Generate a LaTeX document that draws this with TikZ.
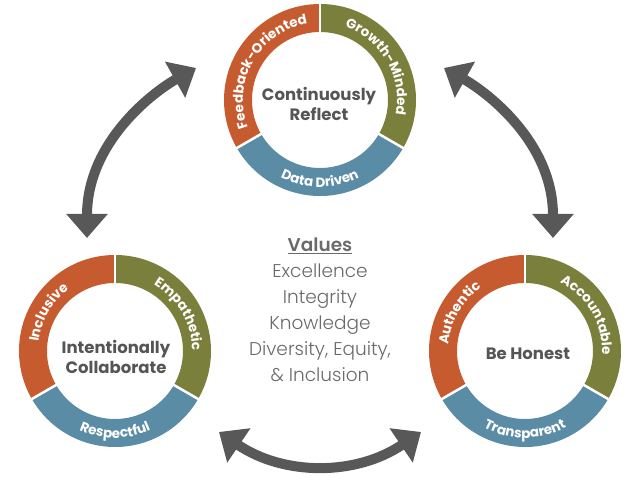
\documentclass[tikz,border=0pt]{standalone}
\usepackage{fontspec}
\setmainfont{Poppins}
\newfontfamily\lightfont{Poppins Light}
\usetikzlibrary{arrows.meta,decorations.text,calc}
\definecolor{rust}{HTML}{C75B30}
\definecolor{olive}{HTML}{7A7F3B}
\definecolor{steel}{HTML}{5A8CA6}
\definecolor{arrowgray}{HTML}{585858}
\definecolor{labelgray}{HTML}{555555}
\definecolor{valgray}{HTML}{6A6A6A}
\def\Rout{96pt}
\def\Rin{68pt}
\newcommand\arcfont{\bfseries\fontsize{13.5}{14}\selectfont}
\newcommand\ringseg[4]{\fill[#4] ($(#1)+(#2:\Rout)$) arc[start angle=#2,end angle=#3,radius=\Rout] -- ($(#1)+(#3:\Rin)$) arc[start angle=#3,end angle=#2,radius=\Rin] -- cycle;}
\newcommand\myring[1]{%
  \ringseg{#1}{90}{210}{rust}
  \ringseg{#1}{210}{330}{steel}
  \ringseg{#1}{-30}{90}{olive}
  \foreach \a in {90,210,330} \draw[white,line width=2.5pt] ($(#1)+(\a:\Rin-3pt)$) -- ($(#1)+(\a:\Rout+3pt)$);
}
\newcommand\arcout[4]{\path[decorate,decoration={text along path,text align=center,text color=white,text={|\arcfont|#4}}] ($(#1)+(#2:77pt)$) arc[start angle=#2,end angle=#3,radius=77pt];}
\newcommand\arcin[4]{\path[decorate,decoration={text along path,text align=center,text color=white,text={|\arcfont|#4}}] ($(#1)+(#2:87pt)$) arc[start angle=#2,end angle=#3,radius=87pt];}
\tikzset{
  biarrow/.style={draw=arrowgray,line width=10pt,{Triangle[width=40pt,length=24pt,fill=arrowgray]}-{Triangle[width=40pt,length=24pt,fill=arrowgray]}},
  center label/.style={font=\bfseries\fontsize{16.5}{20}\selectfont,text=labelgray,align=center},
  valstyle/.style={font=\lightfont\fontsize{18.5}{22}\selectfont,text=valgray,anchor=base,inner sep=0pt}
}
\begin{document}
\begin{tikzpicture}[x=1pt,y=1pt]
\useasboundingbox (0,0) rectangle (641,481);
\coordinate (cT) at (320,381);
\coordinate (cL) at (115,130);
\coordinate (cR) at (525,130);
\myring{cT}
\myring{cL}
\myring{cR}
% arc texts
\arcout{cT}{208}{92}{Feedback-Oriented}
\arcout{cT}{88}{-28}{Growth-Minded}
\arcin{cT}{212}{328}{Data Driven}
\arcout{cL}{208}{92}{Inclusive}
\arcout{cL}{88}{-28}{Empathetic}
\arcin{cL}{212}{328}{Respectful}
\arcout{cR}{208}{92}{Authentic}
\arcout{cR}{88}{-28}{Accountable}
\arcin{cR}{212}{328}{Transparent}
% center labels
\node[center label] (reflect) at (319,377) {Continuously\\Reflect};
\node[center label] (collab) at (116,124) {Intentionally\\Collaborate};
\node[center label,anchor=base] (honest) at (528,121) {Be Honest};
% values
\node[valstyle] (v0) at (320,229) {\bfseries\underline{Values}};
\node[valstyle] (v1) at (320,203) {Excellence};
\node[valstyle] (v2) at (320,177) {Integrity};
\node[valstyle] (v3) at (320,151) {Knowledge};
\node[valstyle] (v4) at (320,125) {Diversity, Equity,};
\node[valstyle] (v5) at (320,99) {\& Inclusion};
% arrows
\coordinate (l1) at (87,243);
\coordinate (l2) at (196,413);
\coordinate (r1) at (553,243);
\coordinate (r2) at (444,413);
\coordinate (b1) at (219,49);
\coordinate (b2) at (421,49);
\draw[biarrow] (l1) .. controls (87,340) and (155,390) .. (l2);
\draw[biarrow] (r1) .. controls (553,340) and (485,390) .. (r2);
\draw[biarrow] (b1) .. controls (284,5) and (356,5) .. (b2);
\end{tikzpicture}
\end{document}
